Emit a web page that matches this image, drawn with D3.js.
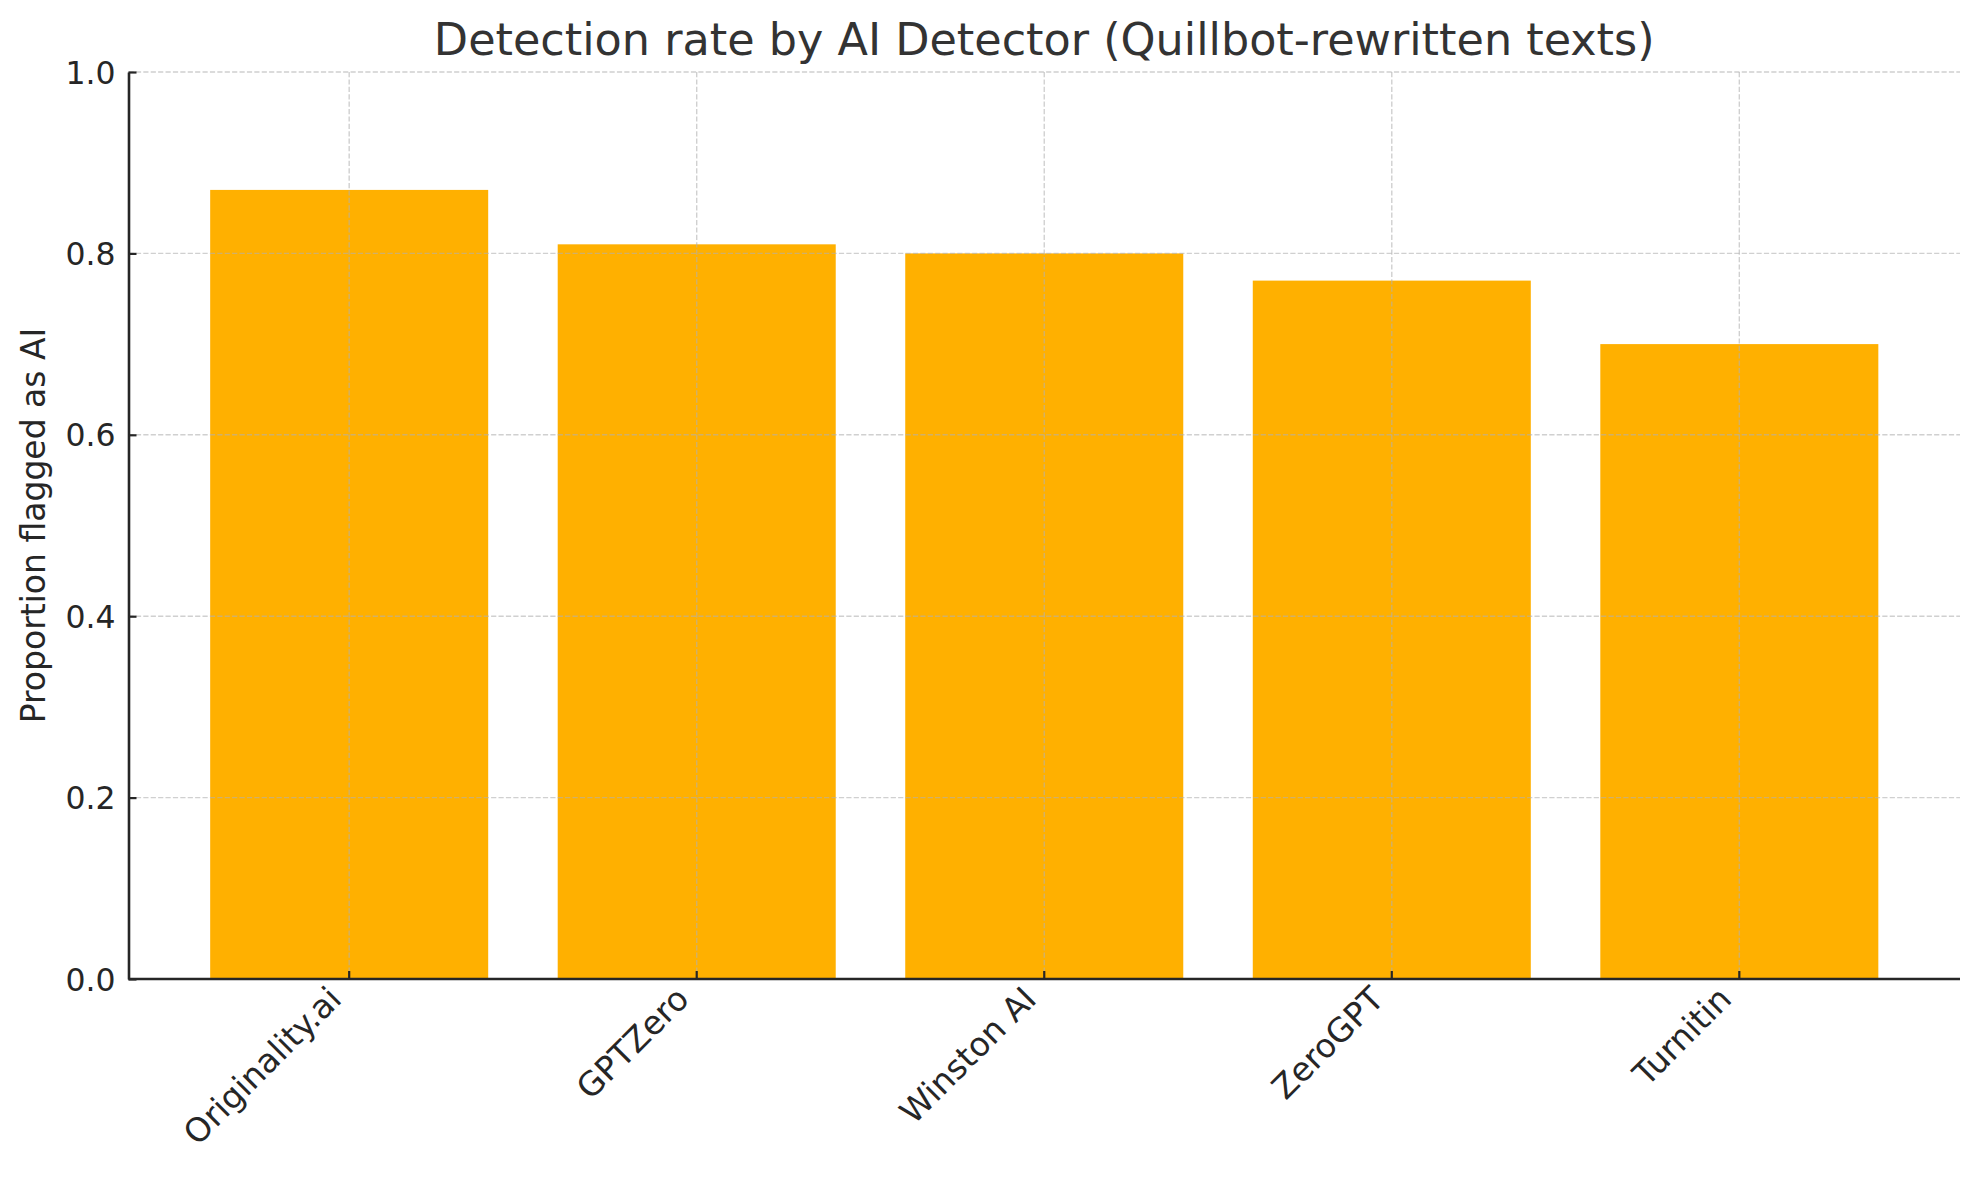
<!DOCTYPE html>
<html>
<head>
<meta charset="utf-8">
<script src="https://cdn.jsdelivr.net/npm/d3@7"></script>
<style>
  html, body { margin: 0; padding: 0; background: #fff; }
  svg { display: block; }
  text { font-family: "DejaVu Sans", sans-serif; }
</style>
</head>
<body>
<script>
const categories = ["Originality.ai", "GPTZero", "Winston AI", "ZeroGPT", "Turnitin"];
const values = [0.87, 0.81, 0.80, 0.77, 0.70];
const yTicks = [0.0, 0.2, 0.4, 0.6, 0.8, 1.0];
const titleText = "Detection rate by AI Detector (Quillbot-rewritten texts)";
const yLabelText = "Proportion flagged as AI";

const W = 1979, H = 1180;
const m = { left: 128.5, right: 1960, top: 72, bottom: 979 };

const svg = d3.select("body").append("svg").attr("width", W).attr("height", H);

const x = d3.scaleBand().domain(categories).range([m.left, m.right])
  .paddingInner(0.2).paddingOuter(0.235);
const y = d3.scaleLinear().domain([0, 1]).range([m.bottom, m.top]);

// bars
svg.append("g").selectAll("rect").data(values).join("rect")
  .attr("x", (d, i) => x(categories[i]))
  .attr("width", x.bandwidth())
  .attr("y", d => y(d))
  .attr("height", d => y(0) - y(d))
  .attr("fill", "#FFB000");

// grid
const grid = svg.append("g").attr("stroke", "#b0b0b0").attr("stroke-opacity", 0.6)
  .attr("stroke-width", 1.4).attr("stroke-dasharray", "5.2,2.2");
grid.selectAll("line.h").data(yTicks.filter(t => t > 0)).join("line").attr("class", "h")
  .attr("x1", m.left).attr("x2", m.right).attr("y1", d => y(d)).attr("y2", d => y(d));
grid.selectAll("line.v").data(categories).join("line").attr("class", "v")
  .attr("x1", d => x(d) + x.bandwidth() / 2).attr("x2", d => x(d) + x.bandwidth() / 2)
  .attr("y1", m.top).attr("y2", m.bottom);

// y axis
const yAxis = d3.axisLeft(y).tickValues(yTicks).tickFormat(d3.format(".1f"))
  .tickSizeInner(-8).tickSizeOuter(0).tickPadding(13);
const gy = svg.append("g").attr("transform", `translate(${m.left},0)`).call(yAxis);
gy.select(".domain").attr("stroke", "#262626").attr("stroke-width", 2.6);
gy.selectAll(".tick line").attr("stroke", "#262626").attr("stroke-width", 2.2);
gy.selectAll(".tick text").attr("font-size", 31.5).attr("fill", "#262626")
  .attr("font-family", "DejaVu Sans").attr("dy", "0.35em");

// x axis
const xAxis = d3.axisBottom(x).tickSizeInner(-8).tickSizeOuter(0).tickPadding(10);
const gx = svg.append("g").attr("transform", `translate(0,${m.bottom})`).call(xAxis);
gx.select(".domain").attr("stroke", "#262626").attr("stroke-width", 2.6)
  .attr("d", `M${m.left},0H${m.right}`);
gx.selectAll(".tick line").attr("stroke", "#262626").attr("stroke-width", 2.2);
gx.selectAll(".tick text").attr("font-size", 33).attr("fill", "#262626")
  .attr("font-family", "DejaVu Sans")
  .attr("text-anchor", "end")
  .attr("dy", null)
  .attr("y", null)
  .attr("transform", "translate(-6,22) rotate(-45)");

// title
svg.append("text").attr("x", (m.left + m.right) / 2).attr("y", 55)
  .attr("text-anchor", "middle").attr("font-size", 44.5).attr("fill", "#333333")
  .text(titleText);

// y label
svg.append("text").attr("transform", `translate(45,${(m.top + m.bottom) / 2}) rotate(-90)`)
  .attr("text-anchor", "middle").attr("font-size", 33).attr("fill", "#262626")
  .text(yLabelText);
</script>
</body>
</html>
